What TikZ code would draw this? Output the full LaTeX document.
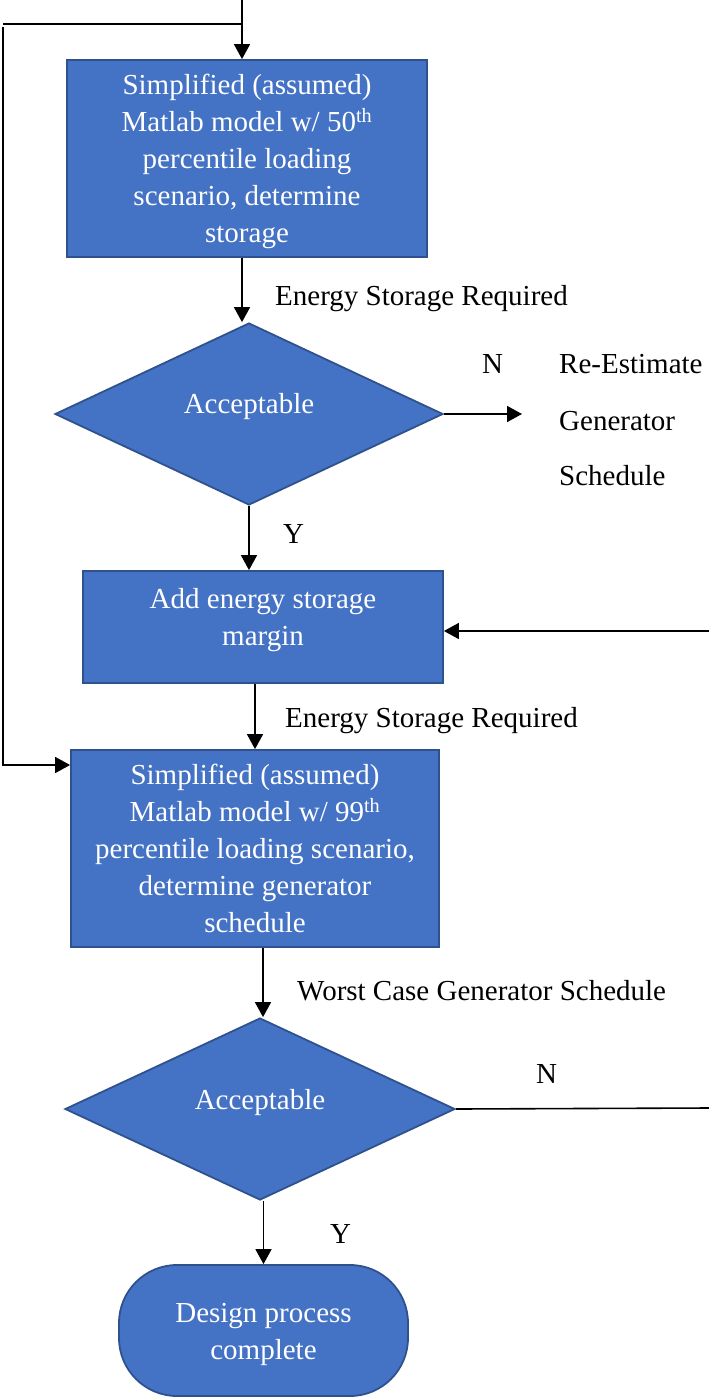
\documentclass[tikz,border=0pt]{standalone}
\usepackage{fontspec}
\setmainfont{Liberation Serif}
\usetikzlibrary{shapes.geometric,arrows.meta}
\definecolor{boxfill}{HTML}{4472C4}
\definecolor{boxedge}{HTML}{2F528F}
\begin{document}
\begin{tikzpicture}[x=1pt,y=-1pt,
  txt/.style={font=\fontsize{29}{37}\selectfont},
  procbox/.style={draw=boxedge,line width=1.8pt,fill=boxfill,inner sep=0pt},
  decbox/.style={shape=diamond,draw=boxedge,line width=1.8pt,fill=boxfill,inner sep=0pt},
  intext/.style={txt,text=white,align=center,inner sep=0pt},
  conn/.style={line width=1.6pt,black},
  arr/.style={conn,-{Triangle[length=15pt,width=16pt]}},
  lbl/.style={txt,anchor=west,inner sep=0pt}]
\useasboundingbox (0,0) rectangle (709,1400);
% shapes
\node[procbox,minimum width=360pt,minimum height=197pt] (box1) at (247,158.5) {};
\node[decbox,minimum width=388pt,minimum height=182pt,aspect=2.13] (d1) at (249,414) {};
\node[procbox,minimum width=360pt,minimum height=112pt] (box2) at (263,627) {};
\node[procbox,minimum width=368pt,minimum height=197pt] (box4) at (255,848.5) {};
\node[decbox,minimum width=390pt,minimum height=182pt,aspect=2.14] (d2) at (260,1109) {};
\node[procbox,minimum width=289pt,minimum height=131pt,rounded corners=58pt] (term) at (263.5,1330.5) {};
% texts inside shapes
\node[intext] (t1) at (247,161.5)
  {Simplified (assumed)\\Matlab model w/ 50\textsuperscript{th}\\percentile loading\\scenario, determine\\storage};
\node[intext] (t2) at (249,407) {Acceptable};
\node[intext] (t3) at (263,620.5) {Add energy storage\\margin};
\node[intext] (t4) at (255,848.5)
  {Simplified (assumed)\\Matlab model w/ 99\textsuperscript{th}\\percentile loading scenario,\\determine generator\\schedule};
\node[intext] (t5) at (260,1103) {Acceptable};
\node[intext] (t6) at (263.5,1334.5) {Design process\\complete};
% coordinates for free ends
\coordinate (top) at (242,0);
\coordinate (lt) at (3,24);
\coordinate (l4) at (3,765);
\coordinate (n1end) at (522,414);
\coordinate (r2) at (709,631);
\coordinate (r5) at (709,1108);
\coordinate (x4) at (263,0);
% connectors
\draw[arr] (top) -- (box1.north -| top);
\draw[conn] (top |- lt) -- (lt);
\draw[arr] (3,27) -- (l4) -- (box4.west |- l4);
\draw[arr] (box1.south -| top) -- (d1.north -| top);
\draw[arr] (d1.east) -- (n1end);
\draw[arr] (d1.south) -- (box2.north -| d1.south);
\draw[arr] (r2) -- (box2.east |- r2);
\draw[arr] (box2.south -| box4.north) -- (box4.north);
\draw[arr] (box4.south -| x4) -- (d2.north -| x4);
\draw[conn] (d2.east) -- (r5);
\draw[arr] (d2.south -| term.north) -- (term.north);
% labels
\node[lbl] (l1) at (275,299) {Energy Storage Required};
\node[lbl] (n1) at (482,364) {N};
\node[lbl] (re1) at (559,364) {Re-Estimate};
\node[lbl] (re2) at (559,421) {Generator};
\node[lbl] (re3) at (559,476) {Schedule};
\node[lbl] (y1) at (283,534) {Y};
\node[lbl] (l2) at (285,721) {Energy Storage Required};
\node[lbl] (l3) at (297,991) {Worst Case Generator Schedule};
\node[lbl] (n2) at (536,1074) {N};
\node[lbl] (y2) at (330,1234) {Y};
\end{tikzpicture}
\end{document}
